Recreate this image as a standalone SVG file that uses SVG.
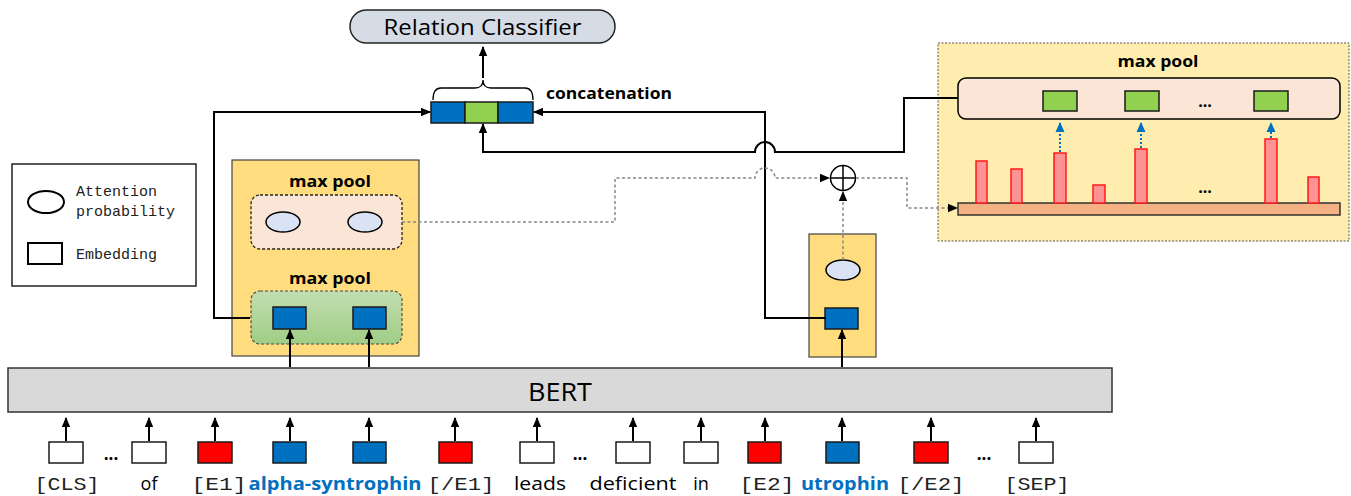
<svg xmlns="http://www.w3.org/2000/svg" width="1351" height="496" viewBox="0 0 1351 496">
<style>
.sans{font-family:"Open Sans","Noto Sans","Liberation Sans",sans-serif;fill:#000}
.bold{font-weight:bold}
.mono{font-family:"Liberation Mono","DejaVu Sans Mono",monospace;fill:#222}
.conn{fill:none;stroke:#000;stroke-width:2}
.dash{fill:none;stroke:#888;stroke-width:1.5;stroke-dasharray:3 2.5}
.blue{fill:#0070c0;stroke:#1a1a1a;stroke-width:1.5}
.green{fill:#92d050;stroke:#1a1a1a;stroke-width:1.5}
.red{fill:#ff0000;stroke:#1a1a1a;stroke-width:1.5}
.white{fill:#fff;stroke:#1a1a1a;stroke-width:1.5}
.ell{fill:#dae3f3;stroke:#000;stroke-width:1.5}
.bar{fill:#ff9393;stroke:#ff1a1a;stroke-width:1.5}
.bdot{fill:none;stroke:#0070c0;stroke-width:2;stroke-dasharray:2 2}
.tok{font-size:18px}
.ent{fill:#0070c0;font-weight:bold}
</style>
<defs>
<marker id="ah" markerWidth="10" markerHeight="10" refX="9" refY="5" orient="auto" markerUnits="userSpaceOnUse"><path d="M0,0.8 L10,5 L0,9.2 Z" fill="#000"/></marker>
<marker id="ahb" markerWidth="10" markerHeight="10" refX="9" refY="5" orient="auto" markerUnits="userSpaceOnUse"><path d="M0,0.5 L10,5 L0,9.5 Z" fill="#0070c0"/></marker>
<linearGradient id="gg" x1="0" y1="0" x2="0" y2="1"><stop offset="0" stop-color="#c2deb0"/><stop offset="1" stop-color="#a0cd86"/></linearGradient>
</defs>

<g id="relation-classifier">
<rect x="350" y="10" width="265" height="33" rx="16.5" fill="#d6dce5" stroke="#222" stroke-width="1.5"/>
<text x="482.5" y="35" class="sans" font-size="22" text-anchor="middle" textLength="198" lengthAdjust="spacingAndGlyphs">Relation Classifier</text>
</g>

<g id="concatenation">
<rect x="431" y="102" width="34" height="21" class="blue"/>
<rect x="465" y="102" width="33" height="21" class="green"/>
<rect x="498" y="102" width="35" height="21" class="blue"/>
<path d="M433,100 Q433,88 441,88 L475,88 Q483,88 483,80 Q483,88 491,88 L525,88 Q533,88 533,100" fill="none" stroke="#000" stroke-width="1.3"/>
<text x="546" y="99" class="sans bold" font-size="16" textLength="126" lengthAdjust="spacingAndGlyphs">concatenation</text>
</g>

<g id="legend">
<rect x="12" y="164" width="184" height="122" fill="#fff" stroke="#222" stroke-width="1.5"/>
<ellipse cx="46" cy="202" rx="18" ry="11" fill="#fff" stroke="#000" stroke-width="2"/>
<text x="76" y="196" class="mono" font-size="15">Attention</text>
<text x="76" y="216" class="mono" font-size="15">probability</text>
<rect x="28" y="243" width="34" height="21" fill="#fff" stroke="#000" stroke-width="2"/>
<text x="76" y="259" class="mono" font-size="15">Embedding</text>
</g>

<g id="entity1-pool">
<rect x="232" y="160" width="187" height="196" fill="#ffdd7e" stroke="#444" stroke-width="1.2"/>
<text x="330" y="187" class="sans bold" font-size="16" text-anchor="middle" textLength="82" lengthAdjust="spacingAndGlyphs">max pool</text>
<rect x="251" y="195" width="151" height="54" rx="9" fill="#fbe5d6" stroke="#222" stroke-width="1.3" stroke-dasharray="3 2"/>
<ellipse cx="283" cy="222" rx="17" ry="10" class="ell"/>
<ellipse cx="365" cy="222" rx="17" ry="10" class="ell"/>
<text x="330" y="284" class="sans bold" font-size="16" text-anchor="middle" textLength="82" lengthAdjust="spacingAndGlyphs">max pool</text>
<rect x="251" y="291" width="151" height="53" rx="9" fill="url(#gg)" stroke="#444" stroke-width="1.1" stroke-dasharray="3 2"/>
<rect x="273" y="307" width="33" height="22" class="blue"/>
<rect x="353" y="307" width="33" height="22" class="blue"/>
</g>

<g id="entity2-box">
<rect x="809" y="234" width="67" height="123" fill="#ffdd7e" stroke="#444" stroke-width="1.2"/>
<ellipse cx="843" cy="270" rx="17" ry="10" class="ell"/>
<rect x="825" y="308" width="33" height="21" class="blue"/>
</g>

<g id="sum">
<circle cx="843" cy="178" r="12.5" fill="#fff" stroke="#000" stroke-width="1.5"/>
<path d="M830.5,178 H855.5 M843,165.5 V190.5" stroke="#000" stroke-width="1.5"/>
</g>

<g id="context-pool">
<rect x="938" y="43" width="411" height="198" fill="#ffedaf" stroke="#555" stroke-width="1" stroke-dasharray="2 1.5"/>
<text x="1158" y="67" class="sans bold" font-size="16" text-anchor="middle" textLength="81" lengthAdjust="spacingAndGlyphs">max pool</text>
<rect x="958" y="78" width="382" height="41" rx="8" fill="#fbe5d6" stroke="#000" stroke-width="1.5"/>
<rect x="1043" y="91" width="34" height="20" class="green"/>
<rect x="1125" y="91" width="34" height="20" class="green"/>
<rect x="1254" y="91" width="34" height="20" class="green"/>
<text x="1205" y="107" class="sans bold" font-size="16" text-anchor="middle">...</text>
<rect x="958" y="203" width="382" height="12" fill="#f4b183" stroke="#333" stroke-width="1.5"/>
<rect x="976" y="161" width="11" height="42" class="bar"/>
<rect x="1011" y="169" width="11" height="34" class="bar"/>
<rect x="1054" y="153" width="12" height="50" class="bar"/>
<rect x="1093" y="185" width="12" height="18" class="bar"/>
<rect x="1135" y="149" width="12" height="54" class="bar"/>
<rect x="1265" y="139" width="12" height="64" class="bar"/>
<rect x="1308" y="177" width="11" height="26" class="bar"/>
<text x="1205" y="193" class="sans bold" font-size="16" text-anchor="middle">...</text>
<path d="M1060,152 V123" class="bdot" marker-end="url(#ahb)"/>
<path d="M1141,148 V123" class="bdot" marker-end="url(#ahb)"/>
<path d="M1271,138 V123" class="bdot" marker-end="url(#ahb)"/>
</g>

<g id="bert">
<rect x="8" y="368" width="1104" height="44" fill="#d9d9d9" stroke="#333" stroke-width="1.5"/>
<text x="560" y="401" class="sans" font-size="25" text-anchor="middle" textLength="64" lengthAdjust="spacingAndGlyphs">BERT</text>
</g>

<g id="tokens">
<rect x="49" y="442" width="34" height="21" class="white"/>
<rect x="132" y="442" width="34" height="21" class="white"/>
<rect x="198" y="442" width="34" height="21" class="red"/>
<rect x="273" y="442" width="33" height="21" class="blue"/>
<rect x="353" y="442" width="33" height="21" class="blue"/>
<rect x="439" y="442" width="33" height="21" class="red"/>
<rect x="520" y="442" width="34" height="21" class="white"/>
<rect x="616" y="442" width="34" height="21" class="white"/>
<rect x="684" y="442" width="34" height="21" class="white"/>
<rect x="748" y="442" width="33" height="21" class="red"/>
<rect x="826" y="442" width="33" height="21" class="blue"/>
<rect x="914" y="442" width="34" height="21" class="red"/>
<rect x="1019" y="442" width="34" height="21" class="white"/>
<text x="111" y="460" class="sans bold" font-size="17" text-anchor="middle">...</text>
<text x="580" y="460" class="sans bold" font-size="17" text-anchor="middle">...</text>
<text x="984" y="460" class="sans bold" font-size="17" text-anchor="middle">...</text>
<text x="67" y="490" class="mono tok" text-anchor="middle" textLength="65" lengthAdjust="spacingAndGlyphs">[CLS]</text>
<text x="149" y="490" class="sans tok" text-anchor="middle">of</text>
<text x="219" y="490" class="mono tok" text-anchor="middle" textLength="55" lengthAdjust="spacingAndGlyphs">[E1]</text>
<text x="335" y="490" class="sans tok ent" text-anchor="middle" textLength="173" lengthAdjust="spacingAndGlyphs">alpha-syntrophin</text>
<text x="461" y="490" class="mono tok" text-anchor="middle" textLength="67" lengthAdjust="spacingAndGlyphs">[/E1]</text>
<text x="540" y="490" class="sans tok" text-anchor="middle" textLength="52" lengthAdjust="spacingAndGlyphs">leads</text>
<text x="633" y="490" class="sans tok" text-anchor="middle" textLength="87" lengthAdjust="spacingAndGlyphs">deficient</text>
<text x="701" y="490" class="sans tok" text-anchor="middle">in</text>
<text x="767" y="490" class="mono tok" text-anchor="middle" textLength="55" lengthAdjust="spacingAndGlyphs">[E2]</text>
<text x="845" y="490" class="sans tok ent" text-anchor="middle" textLength="88" lengthAdjust="spacingAndGlyphs">utrophin</text>
<text x="931" y="490" class="mono tok" text-anchor="middle" textLength="67" lengthAdjust="spacingAndGlyphs">[/E2]</text>
<text x="1037" y="490" class="mono tok" text-anchor="middle" textLength="65" lengthAdjust="spacingAndGlyphs">[SEP]</text>
</g>

<g id="connectors">
<path d="M483,78 V47" class="conn" stroke-width="1.8" marker-end="url(#ah)"/>
<path d="M250,318 H214 V112 H430" class="conn" marker-end="url(#ah)"/>
<path d="M826,318 H765 V112 H534" class="conn" marker-end="url(#ah)"/>
<path d="M958,98 H904 V152 H775 A10,10 0 0 0 755,152 H483 V124" class="conn" marker-end="url(#ah)"/>
<path d="M402,222 H615 V178 H755 A10,10 0 0 1 775,178 H829" class="dash" marker-end="url(#ah)"/>
<path d="M843,260 V192" class="dash" marker-end="url(#ah)"/>
<path d="M856,178 H907 V208 H957" class="dash" marker-end="url(#ah)"/>
<path d="M290,367 V330" class="conn" marker-end="url(#ah)"/>
<path d="M369,367 V330" class="conn" marker-end="url(#ah)"/>
<path d="M842,367 V330" class="conn" marker-end="url(#ah)"/>
<path d="M66,441 V418" class="conn" marker-end="url(#ah)"/>
<path d="M149,441 V418" class="conn" marker-end="url(#ah)"/>
<path d="M215,441 V418" class="conn" marker-end="url(#ah)"/>
<path d="M290,441 V418" class="conn" marker-end="url(#ah)"/>
<path d="M369,441 V418" class="conn" marker-end="url(#ah)"/>
<path d="M455,441 V418" class="conn" marker-end="url(#ah)"/>
<path d="M537,441 V418" class="conn" marker-end="url(#ah)"/>
<path d="M633,441 V418" class="conn" marker-end="url(#ah)"/>
<path d="M701,441 V418" class="conn" marker-end="url(#ah)"/>
<path d="M765,441 V418" class="conn" marker-end="url(#ah)"/>
<path d="M842,441 V418" class="conn" marker-end="url(#ah)"/>
<path d="M931,441 V418" class="conn" marker-end="url(#ah)"/>
<path d="M1036,441 V418" class="conn" marker-end="url(#ah)"/>
</g>
</svg>
